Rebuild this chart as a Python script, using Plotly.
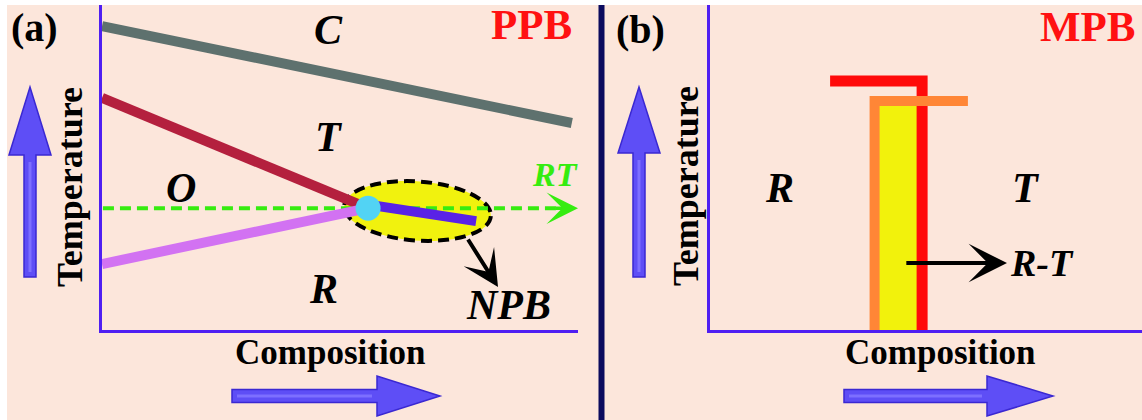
import math
import plotly.graph_objects as go

W, H = 1142, 420
BG = "#FCE6DB"
AXIS = "#4F1FF2"
SERIF = "Liberation Serif"

# ---------------- (a) PPB : composition vs temperature (arbitrary units 0-100) ----------------
c_line_x = [0.0, 98.7]          # Curie line
c_line_t = [93.5, 63.7]
ot_line_x = [0.0, 55.9]         # O / T boundary
ot_line_t = [71.4, 37.5]
or_line_x = [0.0, 55.9]         # O / R boundary
or_line_t = [20.3, 37.5]
rt_line_x = [0.2, 96.0]         # room temperature level
rt_temp = 37.5
npb_line_x = [56.3, 78.6]       # R / T boundary inside the NPB region
npb_line_t = [38.5, 33.5]
triple_x = [55.9]
triple_t = [37.5]
phase_a_names = ["C", "T", "O", "R"]
phase_a_x = [47.5, 47.7, 16.6, 46.6]
phase_a_t = [92.3, 59.4, 43.7, 12.6]

# ---------------- (b) MPB ----------------
r_line_x = [27.8, 49.1, 49.1]
r_line_t = [76.6, 76.6, 0.0]
t_line_x = [38.1, 38.1, 59.7]
t_line_t = [0.0, 70.5, 70.5]
band_x = [38.1, 49.1]
band_top = 70.5
phase_b_names = ["R", "T"]
phase_b_x = [16.2, 73.1]
phase_b_t = [43.7, 43.7]

# pixel frame of the two plotting areas
AX_A = (102, 578)
AX_B = (710, 1142)
AY = (330, 5)


def paper(px, py):
    return px / W, 1 - py / H


def path_paper(pts, close=True):
    s = "M " + " L ".join(f"{px / W:.5f},{1 - py / H:.5f}" for px, py in pts)
    return s + (" Z" if close else "")


def to_data_a(px, py):
    x = (px - AX_A[0]) / (AX_A[1] - AX_A[0]) * 100
    y = (AY[0] - py) / (AY[0] - AY[1]) * 100
    return x, y


def ellipse_path_a(cx, cy, a, b, deg):
    """Tilted ellipse (pixel geometry) as a cubic-Bezier path in panel (a) data units."""
    t = math.radians(deg)
    k = 0.5523
    unit = [(1, 0), (1, k), (k, 1), (0, 1), (-k, 1), (-1, k), (-1, 0),
            (-1, -k), (-k, -1), (0, -1), (k, -1), (1, -k), (1, 0)]
    pts = []
    for u, v in unit:
        px = cx + a * u * math.cos(t) - b * v * math.sin(t)
        py = cy + a * u * math.sin(t) + b * v * math.cos(t)
        pts.append(to_data_a(px, py))
    s = f"M {pts[0][0]:.3f},{pts[0][1]:.3f}"
    for i in range(1, 13, 3):
        s += " C " + " ".join(f"{pts[j][0]:.3f},{pts[j][1]:.3f}" for j in range(i, i + 3))
    return s + " Z"


def up_arrow(cx, tip, head_base, bottom, hw=21, sw=6):
    return [(cx - sw, bottom), (cx - sw, head_base), (cx - hw, head_base), (cx, tip),
            (cx + hw, head_base), (cx + sw, head_base), (cx + sw, bottom)]


def right_arrow(cy, left, head_base, tip, hh=20, sw=6.5):
    return [(left, cy - sw), (head_base, cy - sw), (head_base, cy - hh), (tip, cy),
            (head_base, cy + hh), (head_base, cy + sw), (left, cy + sw)]


fig = go.Figure()

# ---- panel (a) traces ----
fig.add_trace(go.Scatter(x=rt_line_x, y=[rt_temp, rt_temp], mode="lines",
                         line=dict(color="#36EC10", width=4, dash="11px,6px"),
                         xaxis="x", yaxis="y", hoverinfo="skip"))
fig.add_trace(go.Scatter(x=c_line_x, y=c_line_t, mode="lines",
                         line=dict(color="#5E716E", width=10), xaxis="x", yaxis="y"))
fig.add_trace(go.Scatter(x=ot_line_x, y=ot_line_t, mode="lines",
                         line=dict(color="#B4203E", width=10), xaxis="x", yaxis="y"))
fig.add_trace(go.Scatter(x=or_line_x, y=or_line_t, mode="lines",
                         line=dict(color="#D272F2", width=10), xaxis="x", yaxis="y"))
fig.add_trace(go.Scatter(x=npb_line_x, y=npb_line_t, mode="lines",
                         line=dict(color="#5A22E6", width=10), xaxis="x", yaxis="y"))
fig.add_trace(go.Scatter(x=triple_x, y=triple_t, mode="markers",
                         marker=dict(color="#52D3F4", size=25, line=dict(width=0)),
                         xaxis="x", yaxis="y"))

# ---- panel (b) traces ----
fig.add_trace(go.Scatter(x=[band_x[0], band_x[1], band_x[1], band_x[0]],
                         y=[0, 0, band_top, band_top], mode="lines", fill="toself",
                         fillcolor="#F2F20C", line=dict(width=0),
                         xaxis="x2", yaxis="y2"))
fig.add_trace(go.Scatter(x=r_line_x, y=r_line_t, mode="lines",
                         line=dict(color="#FF0A0A", width=11), xaxis="x2", yaxis="y2"))
fig.add_trace(go.Scatter(x=t_line_x, y=t_line_t, mode="lines",
                         line=dict(color="#FF8636", width=10), xaxis="x2", yaxis="y2"))

shapes = []
# white frame strips on the left and top
shapes.append(dict(type="rect", xref="paper", yref="paper", x0=0, x1=7 / W, y0=0, y1=1,
                   fillcolor="white", line=dict(width=0), layer="above"))
shapes.append(dict(type="rect", xref="paper", yref="paper", x0=0, x1=1, y0=1 - 5 / H, y1=1,
                   fillcolor="white", line=dict(width=0), layer="above"))
# panel separator
shapes.append(dict(type="line", xref="paper", yref="paper", x0=601.5 / W, x1=601.5 / W,
                   y0=0, y1=1 - 5 / H, line=dict(color="#0B0B5E", width=6), layer="above"))
# NPB ellipse (drawn over the room-temperature line, under the boundaries)
shapes.append(dict(type="path", xref="x", yref="y", path=ellipse_path_a(417.5, 211, 73.5, 29.5, 4),
                   fillcolor="#F1F20E", line=dict(color="black", width=4, dash="11px,6px"),
                   layer="between"))

# blue direction arrows
for pts, hl in [
    (up_arrow(30, 87, 155, 277), [(30, 162), (30, 272)]),
    (up_arrow(639, 87, 153, 277), [(639, 160), (639, 272)]),
    (right_arrow(396, 232, 377, 440), [(237, 396), (372, 396)]),
    (right_arrow(396, 844, 987, 1053), [(849, 396), (982, 396)]),
]:
    shapes.append(dict(type="path", xref="paper", yref="paper", path=path_paper(pts),
                       fillcolor="#5E4EF6", line=dict(color="#3A28D2", width=1.5), layer="above"))
    shapes.append(dict(type="path", xref="paper", yref="paper", path=path_paper(hl, close=False),
                       line=dict(color="#7D6FFF", width=3), layer="above"))

annotations = []


def label(text, px, py, size, color="black", italic=False, angle=0, xanchor="center"):
    x, y = paper(px, py)
    annotations.append(dict(text=text, x=x, y=y, xref="paper", yref="paper",
                            xanchor=xanchor, yanchor="middle", showarrow=False,
                            textangle=angle,
                            font=dict(family=SERIF, size=size, color=color, weight="bold",
                                      style="italic" if italic else "normal")))


label("(a)", 34, 28, 40)
label("(b)", 640, 30, 40)
label("PPB", 531, 24, 43, color="#FF1111")
label("MPB", 1088, 26, 43, color="#FF1111")
label("Temperature", 70, 187, 36, angle=-90)
label("Temperature", 686, 186, 36, angle=-90)
label("Composition", 330, 352, 35)
label("Composition", 940, 352, 35)

for name, x, t in zip(phase_a_names, phase_a_x, phase_a_t):
    annotations.append(dict(text=name, x=x, y=t, xref="x", yref="y", showarrow=False,
                            font=dict(family=SERIF, size=42, color="black", weight="bold",
                                      style="italic")))
for name, x, t in zip(phase_b_names, phase_b_x, phase_b_t):
    annotations.append(dict(text=name, x=x, y=t, xref="x2", yref="y2", showarrow=False,
                            font=dict(family=SERIF, size=42, color="black", weight="bold",
                                      style="italic")))

# RT arrow head and label
annotations.append(dict(text="", x=100, y=rt_temp, ax=95, ay=rt_temp, xref="x", yref="y",
                        axref="x", ayref="y", showarrow=True, arrowhead=3, arrowsize=1.5,
                        arrowwidth=3.5, arrowcolor="#36EC10"))
annotations.append(dict(text="RT", x=95.2, y=47.7, xref="x", yref="y", showarrow=False,
                        font=dict(family=SERIF, size=34, color="#36EC10", weight="bold",
                                  style="italic")))
# NPB pointer
annotations.append(dict(text="", x=83.2, y=13.2, ax=76.7, ay=28.3, xref="x", yref="y",
                        axref="x", ayref="y", showarrow=True, arrowhead=3, arrowsize=1.5,
                        arrowwidth=4, arrowcolor="black"))
annotations.append(dict(text="NPB", x=85.5, y=7.7, xref="x", yref="y", showarrow=False,
                        font=dict(family=SERIF, size=42, color="black", weight="bold",
                                  style="italic")))
# R-T pointer in (b)
annotations.append(dict(text="", x=68.75, y=20.6, ax=45.1, ay=20.6, xref="x2", yref="y2",
                        axref="x2", ayref="y2", showarrow=True, arrowhead=3, arrowsize=1.6,
                        arrowwidth=4, arrowcolor="black"))
annotations.append(dict(text="R-T", x=69.0, y=20.6, xref="x2", yref="y2", xanchor="left",
                        showarrow=False,
                        font=dict(family=SERIF, size=38, color="black", weight="bold",
                                  style="italic")))

axis_common = dict(range=[0, 100], showline=True, linecolor=AXIS, linewidth=3,
                   showgrid=False, zeroline=False, showticklabels=False, ticks="",
                   fixedrange=True)
ydom = [1 - AY[0] / H, 1 - AY[1] / H]

fig.update_layout(
    width=W, height=H, margin=dict(l=0, r=0, t=0, b=0),
    paper_bgcolor=BG, plot_bgcolor=BG, showlegend=False,
    xaxis=dict(domain=[AX_A[0] / W, AX_A[1] / W], anchor="y", **axis_common),
    yaxis=dict(domain=ydom, anchor="x", **axis_common),
    xaxis2=dict(domain=[AX_B[0] / W, AX_B[1] / W], anchor="y2", **axis_common),
    yaxis2=dict(domain=ydom, anchor="x2", **axis_common),
    shapes=shapes, annotations=annotations,
)

fig.write_html("out.html")
